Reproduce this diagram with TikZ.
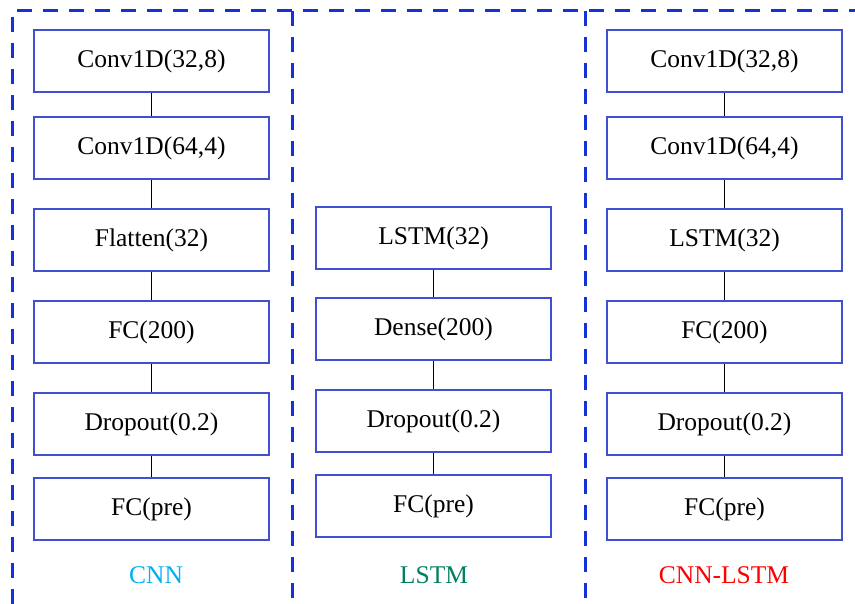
\documentclass[tikz,border=0pt]{standalone}
\usepackage{fontspec}
\setmainfont{Liberation Serif}
\definecolor{boxblue}{RGB}{64,80,208}
\definecolor{dashblue}{RGB}{20,50,214}
\definecolor{cnncol}{RGB}{0,176,240}
\definecolor{lstmcol}{RGB}{0,128,96}
\definecolor{hybcol}{RGB}{255,0,0}
\tikzset{
  layer/.style={draw=boxblue, line width=2pt, fill=white, minimum width=235pt,
    minimum height=62pt, inner sep=0pt, font=\fontsize{25.5}{30}\selectfont},
  link/.style={draw=black, line width=1pt},
  frame/.style={draw=dashblue, line width=3pt, dash pattern=on 15pt off 11pt},
  caption/.style={font=\fontsize{25.5}{30}\selectfont, inner sep=0pt}
}
\begin{document}
\begin{tikzpicture}[x=1pt,y=-1pt]
\useasboundingbox (0,0) rectangle (855,604);
% dashed frame and column separators
\draw[frame] (12,604) -- (12,11) -- (855,11);
\draw[frame] (292,11) -- (292,604);
\draw[frame] (585,11) -- (585,604);

% CNN column
\node[layer] (c1) at (151.5,61) {Conv1D(32,8)};
\node[layer] (c2) at (151.5,148) {Conv1D(64,4)};
\node[layer] (c3) at (151.5,240) {Flatten(32)};
\node[layer] (c4) at (151.5,332) {FC(200)};
\node[layer] (c5) at (151.5,424) {Dropout(0.2)};
\node[layer] (c6) at (151.5,509) {FC(pre)};
\node[caption, text=cnncol] (cl) at (156,575) {CNN};

% LSTM column
\node[layer] (l1) at (433.5,238) {LSTM(32)};
\node[layer] (l2) at (433.5,329) {Dense(200)};
\node[layer] (l3) at (433.5,421) {Dropout(0.2)};
\node[layer] (l4) at (433.5,506) {FC(pre)};
\node[caption, text=lstmcol] (ll) at (434,575) {LSTM};

% CNN-LSTM column
\node[layer] (h1) at (724.5,61) {Conv1D(32,8)};
\node[layer] (h2) at (724.5,148) {Conv1D(64,4)};
\node[layer] (h3) at (724.5,240) {LSTM(32)};
\node[layer] (h4) at (724.5,332) {FC(200)};
\node[layer] (h5) at (724.5,424) {Dropout(0.2)};
\node[layer] (h6) at (724.5,509) {FC(pre)};
\node[caption, text=hybcol] (hl) at (724,575) {CNN-LSTM};

% connectors
\foreach \a/\b in {c1/c2,c2/c3,c3/c4,c4/c5,c5/c6,l1/l2,l2/l3,l3/l4,h1/h2,h2/h3,h3/h4,h4/h5,h5/h6}
  \draw[link] (\a.south) -- (\b.north);
\end{tikzpicture}
\end{document}
